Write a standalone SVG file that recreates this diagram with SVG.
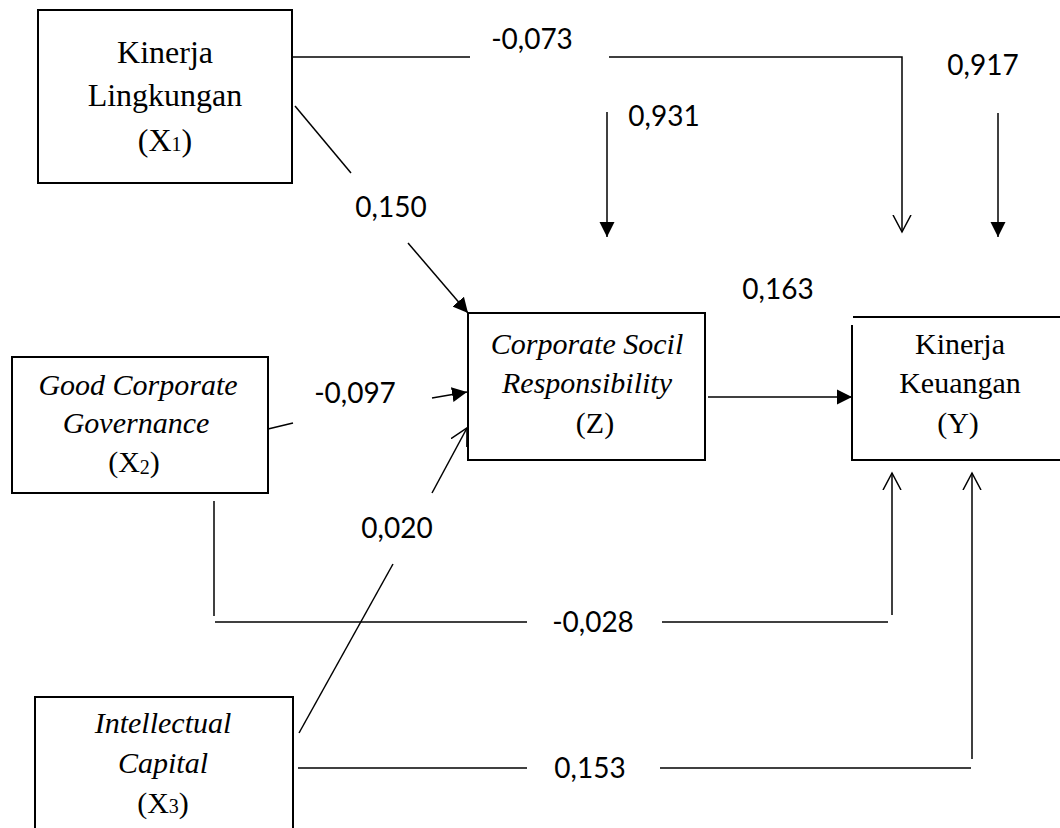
<svg xmlns="http://www.w3.org/2000/svg" width="1060" height="828" viewBox="0 0 1060 828">
  <style>
    .box { fill: #ffffff; stroke: #000000; stroke-width: 2; }
    .edge { fill: none; stroke: #000000; stroke-width: 2; }
    .ln { fill: none; stroke: #000000; stroke-width: 1.5; }
    .lbl { font-family: "Liberation Serif", "Times New Roman", serif; font-size: 30px; fill: #000000; text-anchor: middle; }
    .big { font-size: 32px; }
    .it { font-style: italic; }
    .sub { font-size: 20px; }
    .num { font-family: Lato, "Open Sans", sans-serif; font-size: 28px; fill: #000000; text-anchor: middle; }
  </style>
  <defs>
    <marker id="solid" markerUnits="userSpaceOnUse" markerWidth="16" markerHeight="16" refX="15" refY="8" orient="auto">
      <path d="M0,0.5 L15,8 L0,15.5 Z" fill="#000000"/>
    </marker>
    <marker id="open" markerUnits="userSpaceOnUse" markerWidth="20" markerHeight="22" refX="17" refY="10" orient="auto">
      <path d="M0,1 L17,10 L0,19" fill="none" stroke="#000000" stroke-width="1.5"/>
    </marker>
  </defs>

  <rect width="1060" height="828" fill="#ffffff"/>

  <!-- connectors and path coefficients -->
  <g id="connectors">
    <!-- X1 -> Y -->
    <line class="ln" x1="292" y1="57" x2="470" y2="57"/>
    <polyline class="ln" points="609,57 902,57 902,232" marker-end="url(#open)"/>
    <text class="num" x="532" y="49">-0,073</text>

    <!-- X1 -> Z -->
    <line class="ln" x1="295" y1="106" x2="351" y2="173"/>
    <line class="ln" x1="408" y1="243" x2="468" y2="313" marker-end="url(#solid)"/>
    <text class="num" x="391" y="217">0,150</text>

    <!-- residual on Z -->
    <line class="ln" x1="607" y1="112" x2="607" y2="237" marker-end="url(#solid)"/>
    <text class="num" x="664" y="126">0,931</text>

    <!-- residual on Y -->
    <line class="ln" x1="998" y1="113" x2="998" y2="237" marker-end="url(#solid)"/>
    <text class="num" x="983" y="75">0,917</text>

    <!-- Z -> Y -->
    <line class="ln" x1="708" y1="397" x2="852" y2="397" marker-end="url(#solid)"/>
    <text class="num" x="778" y="299">0,163</text>

    <!-- X2 -> Z -->
    <line class="ln" x1="268" y1="429" x2="293" y2="423"/>
    <line class="ln" x1="432" y1="398" x2="467" y2="392" marker-end="url(#solid)"/>
    <text class="num" x="355" y="403">-0,097</text>

    <!-- X3 -> Z -->
    <line class="ln" x1="299" y1="733" x2="393" y2="564"/>
    <line class="ln" x1="432" y1="493" x2="467" y2="428" marker-end="url(#open)"/>
    <text class="num" x="397" y="538">0,020</text>

    <!-- X2 -> Y -->
    <line class="ln" x1="214" y1="501" x2="214" y2="616"/>
    <line class="ln" x1="215" y1="622" x2="527" y2="622"/>
    <line class="ln" x1="662" y1="622" x2="888" y2="622"/>
    <line class="ln" x1="892" y1="615" x2="892" y2="473" marker-end="url(#open)"/>
    <text class="num" x="593" y="632">-0,028</text>

    <!-- X3 -> Y -->
    <line class="ln" x1="298" y1="768" x2="527" y2="768"/>
    <line class="ln" x1="660" y1="768" x2="971" y2="768"/>
    <line class="ln" x1="972" y1="759" x2="972" y2="473" marker-end="url(#open)"/>
    <text class="num" x="590" y="778">0,153</text>
  </g>

  <!-- Kinerja Lingkungan (X1) -->
  <g id="x1">
    <rect class="box" x="38" y="10" width="254" height="173"/>
    <text class="lbl big" x="165" y="63">Kinerja</text>
    <text class="lbl big" x="165" y="106">Lingkungan</text>
    <text class="lbl big" x="165" y="151">(X<tspan class="sub">1</tspan>)</text>
  </g>

  <!-- Good Corporate Governance (X2) -->
  <g id="x2">
    <rect class="box" x="12" y="357" width="256" height="136"/>
    <text class="lbl it" x="138" y="395">Good Corporate</text>
    <text class="lbl it" x="136" y="433">Governance</text>
    <text class="lbl" x="134" y="472">(X<tspan class="sub" dy="2">2</tspan><tspan dy="-2">)</tspan></text>
  </g>

  <!-- Intellectual Capital (X3) -->
  <g id="x3">
    <rect class="box" x="35" y="697" width="258" height="140"/>
    <text class="lbl it" x="163" y="733">Intellectual</text>
    <text class="lbl it" x="163" y="773">Capital</text>
    <text class="lbl" x="163" y="813">(X<tspan class="sub">3</tspan>)</text>
  </g>

  <!-- Corporate Social Responsibility (Z) -->
  <g id="z">
    <rect class="box" x="468" y="313" width="237" height="147"/>
    <text class="lbl it" x="587" y="354">Corporate Socil</text>
    <text class="lbl it" x="587" y="393">Responsibility</text>
    <text class="lbl" x="595" y="433">(Z)</text>
  </g>

  <!-- Kinerja Keuangan (Y) -->
  <g id="y">
    <rect x="852" y="317" width="208" height="143" fill="#ffffff"/>
    <line class="edge" x1="853" y1="317" x2="1060" y2="317"/>
    <line class="edge" x1="852" y1="325" x2="852" y2="461"/>
    <line class="edge" x1="851" y1="460" x2="1060" y2="460"/>
    <text class="lbl" x="960" y="354">Kinerja</text>
    <text class="lbl" x="960" y="393">Keuangan</text>
    <text class="lbl" x="958" y="433">(Y)</text>
  </g>
</svg>
